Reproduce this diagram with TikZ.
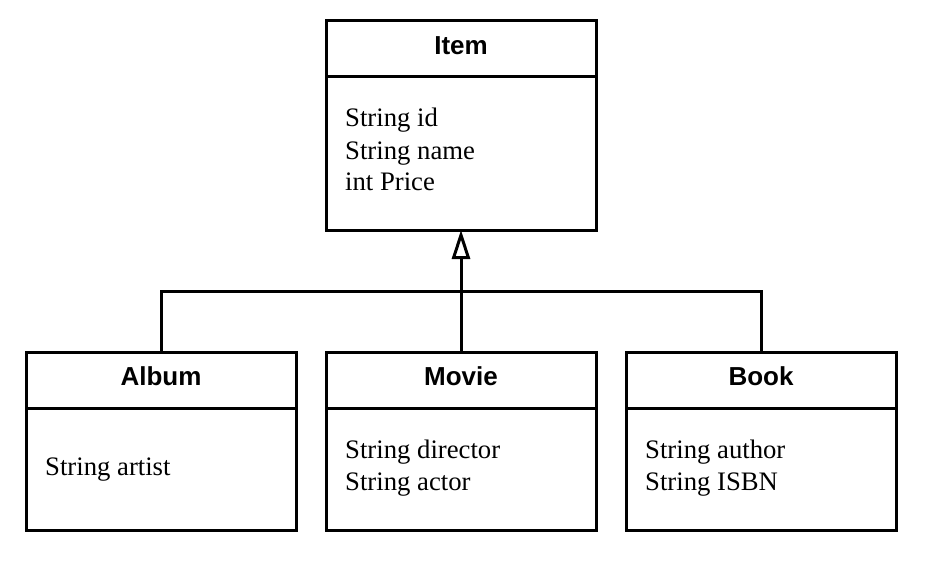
\documentclass[tikz,border=0pt]{standalone}
\usepackage{fontspec}
\setmainfont{Liberation Serif}
\newfontfamily\titlefont{Liberation Sans}
\usetikzlibrary{arrows.meta}
\tikzset{
  box/.style={draw=black, line width=3pt, fill=white, rectangle, inner sep=0pt, outer sep=0pt, minimum width=270pt},
  ttl/.style={anchor=base, inner sep=0pt, font=\titlefont\bfseries\fontsize{26}{30}\selectfont},
  attr/.style={anchor=base west, inner sep=0pt, font=\fontsize{26.7}{32}\selectfont},
  conn/.style={draw=black, line width=3pt},
  divl/.style={draw=black, line width=3pt}
}
\begin{document}
\begin{tikzpicture}[x=1pt,y=-1pt]
\fill[white] (0,0) rectangle (926,564);
\useasboundingbox (0,0) rectangle (926,564);
% Item
\node[box, minimum height=209pt, anchor=north west] (item) at (326,21) {};
\draw[divl] (item.west |- 0,77) -- (item.east |- 0,77);
\node[ttl] (itemt) at (461,55) {Item};
\node[attr] (ia1) at (345,127) {String id};
\node[attr] (ia2) at (345,159.5) {String name};
\node[attr] (ia3) at (345,191) {int Price};
% Album
\node[box, minimum height=178pt, anchor=north west] (album) at (26,352) {};
\draw[divl] (album.west |- 0,408) -- (album.east |- 0,408);
\node[ttl] (albumt) at (161,385) {Album};
\node[attr] (aa1) at (45,475) {String artist};
% Movie
\node[box, minimum height=178pt, anchor=north west] (movie) at (326,352) {};
\draw[divl] (movie.west |- 0,408) -- (movie.east |- 0,408);
\node[ttl] (moviet) at (461,385) {Movie};
\node[attr] (ma1) at (345,458) {String director};
\node[attr] (ma2) at (345,490) {String actor};
% Book
\node[box, minimum height=178pt, anchor=north west] (book) at (626,352) {};
\draw[divl] (book.west |- 0,408) -- (book.east |- 0,408);
\node[ttl] (bookt) at (761,385) {Book};
\node[attr] (ba1) at (645,458) {String author};
\node[attr] (ba2) at (645,490) {String ISBN};
% connectors
\coordinate (bus) at (461,291);
\draw[conn] (album.north) |- (bus) -| (book.north);
\draw[conn, -{Triangle[open, length=29pt, width=18pt, line width=3pt]}] (movie.north) -- (item.south);
\end{tikzpicture}
\end{document}
